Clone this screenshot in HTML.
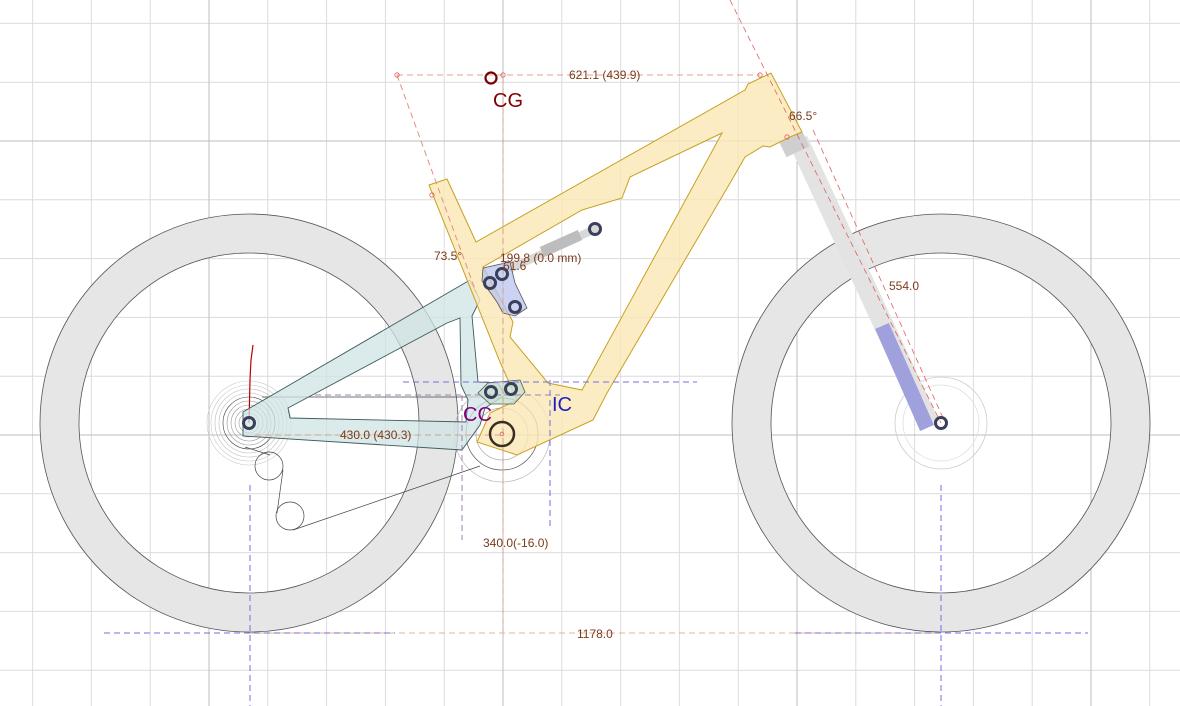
<!DOCTYPE html>
<html><head><meta charset="utf-8"><style>
html,body{margin:0;padding:0;background:#fff}
svg{display:block}
text{font-family:"Liberation Sans","DejaVu Sans",sans-serif}
</style></head><body>
<svg width="1180" height="706" viewBox="0 0 1180 706" xmlns="http://www.w3.org/2000/svg">
<g stroke="#dcdcdc" stroke-width="1">
<line x1="32.6" y1="0" x2="32.6" y2="706"/><line x1="91.4" y1="0" x2="91.4" y2="706"/><line x1="150.2" y1="0" x2="150.2" y2="706"/>
<line x1="267.8" y1="0" x2="267.8" y2="706"/><line x1="326.6" y1="0" x2="326.6" y2="706"/><line x1="385.4" y1="0" x2="385.4" y2="706"/><line x1="444.2" y1="0" x2="444.2" y2="706"/>
<line x1="561.8" y1="0" x2="561.8" y2="706"/><line x1="620.6" y1="0" x2="620.6" y2="706"/><line x1="679.4" y1="0" x2="679.4" y2="706"/><line x1="738.2" y1="0" x2="738.2" y2="706"/>
<line x1="855.8" y1="0" x2="855.8" y2="706"/><line x1="914.6" y1="0" x2="914.6" y2="706"/><line x1="973.4" y1="0" x2="973.4" y2="706"/><line x1="1032.2" y1="0" x2="1032.2" y2="706"/><line x1="1149.8" y1="0" x2="1149.8" y2="706"/>
<line x1="0" y1="23.4" x2="1180" y2="23.4"/><line x1="0" y1="82.2" x2="1180" y2="82.2"/><line x1="0" y1="199.8" x2="1180" y2="199.8"/><line x1="0" y1="258.6" x2="1180" y2="258.6"/><line x1="0" y1="317.4" x2="1180" y2="317.4"/><line x1="0" y1="376.2" x2="1180" y2="376.2"/>
<line x1="0" y1="493.8" x2="1180" y2="493.8"/><line x1="0" y1="552.6" x2="1180" y2="552.6"/><line x1="0" y1="611.4" x2="1180" y2="611.4"/><line x1="0" y1="670.2" x2="1180" y2="670.2"/>
</g>
<g stroke="#bdbdbd" stroke-width="1">
<line x1="209" y1="0" x2="209" y2="706"/><line x1="503" y1="0" x2="503" y2="706"/><line x1="797" y1="0" x2="797" y2="706"/><line x1="1091" y1="0" x2="1091" y2="706"/>
<line x1="0" y1="141" x2="1180" y2="141"/><line x1="0" y1="435" x2="1180" y2="435"/>
</g>
<path d="M249,214a209,209 0 1,0 0.01,0zM249,253a170,170 0 1,1 -0.01,0z" fill="#e6e6e6" fill-rule="evenodd" stroke="#555" stroke-width="0.8"/>
<path d="M941,214a209,209 0 1,0 0.01,0zM941,253a170,170 0 1,1 -0.01,0z" fill="#e6e6e6" fill-rule="evenodd" stroke="#555" stroke-width="0.8"/>
<circle cx="941" cy="423" r="46" fill="none" stroke="#ccc" stroke-width="0.8"/>
<circle cx="941" cy="423" r="38" fill="none" stroke="#ddd" stroke-width="0.8"/>
<g fill="none" stroke="#999" stroke-width="0.6">
<circle cx="249" cy="423" r="10"/><circle cx="249" cy="423" r="14"/><circle cx="249" cy="423" r="18"/><circle cx="249" cy="423" r="22"/><circle cx="249" cy="423" r="26" stroke="#444"/><circle cx="249" cy="423" r="30" stroke="#bbb"/><circle cx="249" cy="423" r="34" stroke="#bbb"/><circle cx="249" cy="423" r="38" stroke="#ccc"/><circle cx="249" cy="423" r="42" stroke="#ccc"/>
</g>
<g fill="none" stroke="#aaa" stroke-width="0.7">
<circle cx="502" cy="434" r="26"/><circle cx="502" cy="434" r="36" stroke="#555"/><circle cx="502" cy="434" r="48" stroke="#bbb"/>
</g>
<g fill="none" stroke="#444" stroke-width="0.7">
<line x1="262" y1="397" x2="490" y2="397"/>
<polyline points="245,447 270,455"/>
<circle cx="269" cy="466" r="14"/><circle cx="290" cy="516" r="14"/>
<line x1="283" y1="470" x2="277" y2="513"/>
<line x1="293" y1="530" x2="480" y2="466"/>
</g>
<path d="M249,423 L250,380 L251,360 L253,345" fill="none" stroke="#b00" stroke-width="1.2"/>
<path d="M243,412 L470,280 L480,300 L472,316 L476,360 L478,382 L498,383 L505,395 L485,408 L480,425 L462,450 L243,436 Z M288,408 L447,323 L460,318 L461,385 L468,400 L466,422 L290,418 Z" fill="#cfe3e3" fill-opacity="0.75" fill-rule="evenodd" stroke="#3e5a5a" stroke-width="0.9"/>
<line x1="798" y1="140" x2="930" y2="425" stroke="#e3e3e3" stroke-width="20"/>
<line x1="882" y1="326" x2="927" y2="428" stroke="#a0a0dc" stroke-width="15"/>
<line x1="783" y1="150" x2="806" y2="139" stroke="#cfcfcf" stroke-width="16"/>
<path d="M429,185 L447,179 L476,242 L745,90 L748,84 L771,73 L802,132 L790,137 L770,147 L763,146 L745,157 L733,178 L607,393 L593,420 L517,455 L477,442 L490,413 L517,400 L500,362 Z M722,133 L630,177 L622,198 L582,210 L483,267 L513,322 L510,337 L548,383 L582,390 Z" fill="#fbe7b5" fill-opacity="0.8" fill-rule="evenodd" stroke="#c8a020" stroke-width="1"/>
<line x1="512" y1="268" x2="595" y2="229" stroke="#d8d8d8" stroke-width="8" stroke-linecap="round"/>
<line x1="542" y1="252" x2="580" y2="235" stroke="#bdbdbd" stroke-width="11"/>
<path d="M483,268 L510,262 L515,283 L527,308 L515,316 L503,313 L497,302 L482,281 Z" fill="#b9c3ee" fill-opacity="0.75" stroke="#555" stroke-width="0.8"/>
<path d="M478,393 L488,383 L520,380 L525,392 L514,404 L490,404 Z" fill="#c7e0cf" fill-opacity="0.8" stroke="#555" stroke-width="0.8"/>
<g fill="none" stroke-dasharray="6,4" stroke-width="1">
<line x1="397" y1="75" x2="760" y2="75" stroke="#e6a090"/>
<line x1="503" y1="78" x2="503" y2="633" stroke="#d9a08a"/>
<line x1="397" y1="75" x2="476" y2="292" stroke="#e69080"/>
<line x1="730" y1="0" x2="941" y2="423" stroke="#e06060" stroke-width="0.8"/>
<line x1="813" y1="130" x2="944" y2="420" stroke="#e06060" stroke-width="0.8"/>
<line x1="249" y1="633" x2="941" y2="633" stroke="#e8b090"/>
<line x1="104" y1="633" x2="395" y2="633" stroke="#7070e0"/>
<line x1="795" y1="633" x2="1088" y2="633" stroke="#7070e0"/>
<line x1="250" y1="485" x2="250" y2="706" stroke="#7070e0"/>
<line x1="941" y1="485" x2="941" y2="706" stroke="#7070e0"/>
<line x1="403" y1="382" x2="697" y2="382" stroke="#7070e0"/>
<line x1="550" y1="380" x2="550" y2="527" stroke="#7070e0"/>
<line x1="315" y1="395" x2="560" y2="395" stroke="#a080b0"/>
<line x1="462" y1="395" x2="462" y2="540" stroke="#a080b0"/>
<line x1="255" y1="435" x2="500" y2="435" stroke="#d9a08a"/>
</g>
<g fill="none" stroke="#e06060" stroke-width="0.8">
<circle cx="397" cy="75" r="2.2"/><circle cx="503" cy="75" r="2.2"/><circle cx="760" cy="75" r="2.2"/><circle cx="432" cy="195" r="2.2"/><circle cx="787" cy="137" r="2.2"/><circle cx="502" cy="434" r="1.8"/>
</g>
<g fill="none" stroke="#3a3f5a" stroke-width="3">
<circle cx="490" cy="283" r="5.5"/><circle cx="502" cy="274" r="5.5"/><circle cx="515" cy="307" r="5.5"/>
<circle cx="491" cy="392" r="5.5"/><circle cx="511" cy="389" r="5.5"/><circle cx="595" cy="229" r="5.5"/>
<circle cx="249" cy="423" r="5.5"/><circle cx="941" cy="423" r="5.5"/>
</g>
<circle cx="502" cy="434" r="12" fill="none" stroke="#3a2e22" stroke-width="2.5"/>
<circle cx="491" cy="78" r="5.5" fill="none" stroke="#7a0000" stroke-width="2.2"/>
<g font-size="12" fill="#7a3b1a">
<text x="569" y="79">621.1 (439.9)</text>
<text x="789" y="120">66.5°</text>
<text x="434" y="260">73.5°</text>
<text x="500" y="262">199.8 (0.0 mm)</text>
<text x="503" y="270">61.6</text>
<text x="889" y="290">554.0</text>
<text x="340" y="439">430.0 (430.3)</text>
<text x="483" y="547">340.0(-16.0)</text>
<text x="577" y="638">1178.0</text>
</g>
<text x="493" y="107" font-size="20" fill="#800000">CG</text>
<text x="463" y="421" font-size="20" fill="#800080">CC</text>
<text x="552" y="411" font-size="20" fill="#2020c0">IC</text>
</svg>
</body></html>
